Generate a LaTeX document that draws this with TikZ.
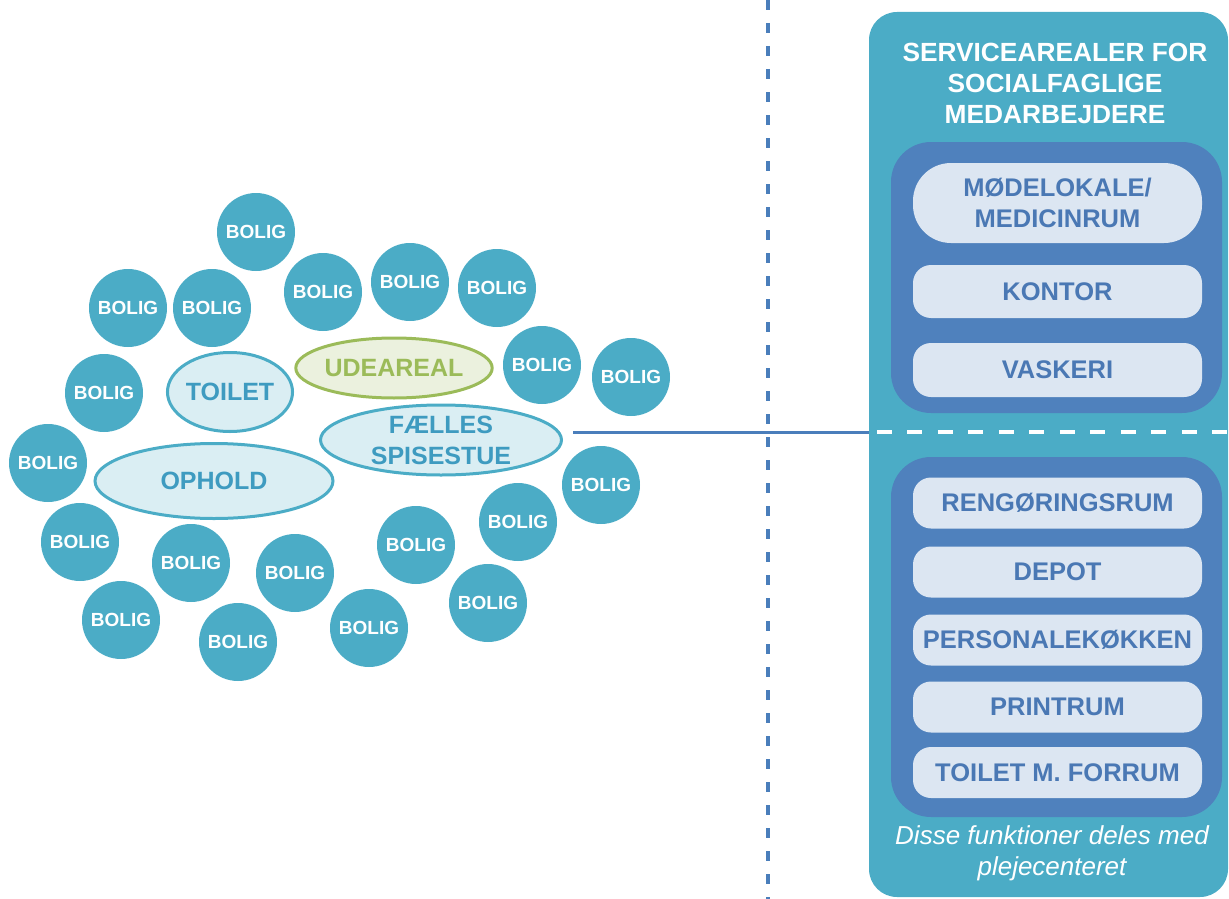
\documentclass[tikz,border=0pt]{standalone}
\usepackage{fontspec}
\setmainfont{Liberation Sans}
\usetikzlibrary{shapes.geometric}

\tikzset{
  bolig/.style={circle,fill=boligblaa,minimum size=78pt,inner sep=0pt,
    text=white,font=\fontsize{19}{20}\selectfont\bfseries},
  rum/.style={ellipse,draw=boligblaa,line width=3pt,fill=rumlys,inner sep=0pt,
    text=rumtekst,align=center,font=\fontsize{25}{31}\selectfont\bfseries},
  uderum/.style={rum,draw=udegroen,fill=udelys,text=udegroen},
  gruppe/.style={rectangle,fill=gruppeblaa,rounded corners=40pt,
    minimum width=331pt,inner sep=0pt},
  funktion/.style={rectangle,fill=funktionlys,rounded corners=18pt,
    minimum width=289pt,minimum height=51pt,inner sep=0pt,align=center,
    text=funktiontekst,font=\fontsize{25.5}{31}\selectfont\bfseries},
  forbindelse/.style={draw=linjeblaa,line width=3pt},
  deler/.style={draw=linjeblaa,line width=3.3pt,dash pattern=on 10pt off 13pt},
  hvidstreg/.style={draw=white,line width=3.8pt,dash pattern=on 15pt off 15.5pt}
}

\begin{document}
\begin{tikzpicture}[x=1pt,y=-1pt]
\definecolor{boligblaa}{HTML}{4BACC6}
\definecolor{rumlys}{HTML}{DAEEF3}
\definecolor{rumtekst}{HTML}{3E9BC0}
\definecolor{udegroen}{HTML}{9BBB59}
\definecolor{udelys}{HTML}{EBF1DE}
\definecolor{gruppeblaa}{HTML}{4F81BD}
\definecolor{funktionlys}{HTML}{DCE6F2}
\definecolor{funktiontekst}{HTML}{4A78B4}
\definecolor{linjeblaa}{HTML}{4A7EBB}
\useasboundingbox (0,0) rectangle (1229,899);

% Divider between the two halves
\coordinate (deltop) at (768,0);
\coordinate (delbund) at (768,899);
\draw[deler] (deltop) -- (delbund);

% Boliger around the common rooms
\foreach \x/\y [count=\i] in {256/232,323/292,410/282,497/288,128/308,
    212/308,104/393,542/365,631/377,48/463,601/485,518/522,80/542,
    191/563,295/573,416/545,488/603,121/620,238/642,369/628}
  \node[bolig] (bolig\i) at (\x,\y) {BOLIG};

% Common rooms
\node[uderum,minimum width=195pt,minimum height=60pt] (udeareal) at (394,368) {UDEAREAL};
\node[rum,minimum width=117pt,minimum height=79pt] (toilet) at (230,392) {TOILET};
\node[rum,minimum width=238pt,minimum height=75pt] (ophold) at (214,481) {OPHOLD};
\node[rum,minimum width=241pt,minimum height=70pt] (spisestue) at (441,440) {FÆLLES\\SPISESTUE};

% Service areas
\node[rectangle,fill=boligblaa,rounded corners=28pt,minimum width=359pt,
  minimum height=885pt,inner sep=0pt] (panel) at (1048.5,454.5) {};
\node[align=center,text=white,font=\fontsize{26.3}{31}\selectfont\bfseries]
  (titel) at (1055,83) {SERVICEAREALER FOR\\SOCIALFAGLIGE\\MEDARBEJDERE};

\node[gruppe,minimum height=271pt] (egne) at (1056.5,277.5) {};
\node[funktion,minimum height=80pt,rounded corners=38pt] (moede) at (1057.5,203) {MØDELOKALE/\\MEDICINRUM};
\node[funktion,minimum height=53pt] (kontor) at (1057.5,291.5) {KONTOR};
\node[funktion,minimum height=54pt] (vaskeri) at (1057.5,370) {VASKERI};

\node[gruppe,minimum height=360pt] (delte) at (1056.5,637) {};
\node[funktion] (rengoering) at (1057.5,503) {RENGØRINGSRUM};
\node[funktion] (depot) at (1057.5,572) {DEPOT};
\node[funktion] (personale) at (1057.5,640) {PERSONALEKØKKEN};
\node[funktion] (printrum) at (1057.5,707) {PRINTRUM};
\node[funktion] (forrum) at (1057.5,772.5) {TOILET M. FORRUM};

\node[align=center,text=white,font=\fontsize{26}{31}\selectfont\itshape]
  (note) at (1052,853) {Disse funktioner deles med\\plejecenteret};

% Link from the common dining room to the service areas
\coordinate (linjestart) at ([shift={(10,-8)}]spisestue.east);
\draw[forbindelse] (linjestart) -- (linjestart -| panel.west);
\draw[hvidstreg] ([xshift=8pt]linjestart -| panel.west) -- (linjestart -| panel.east);
\end{tikzpicture}
\end{document}
